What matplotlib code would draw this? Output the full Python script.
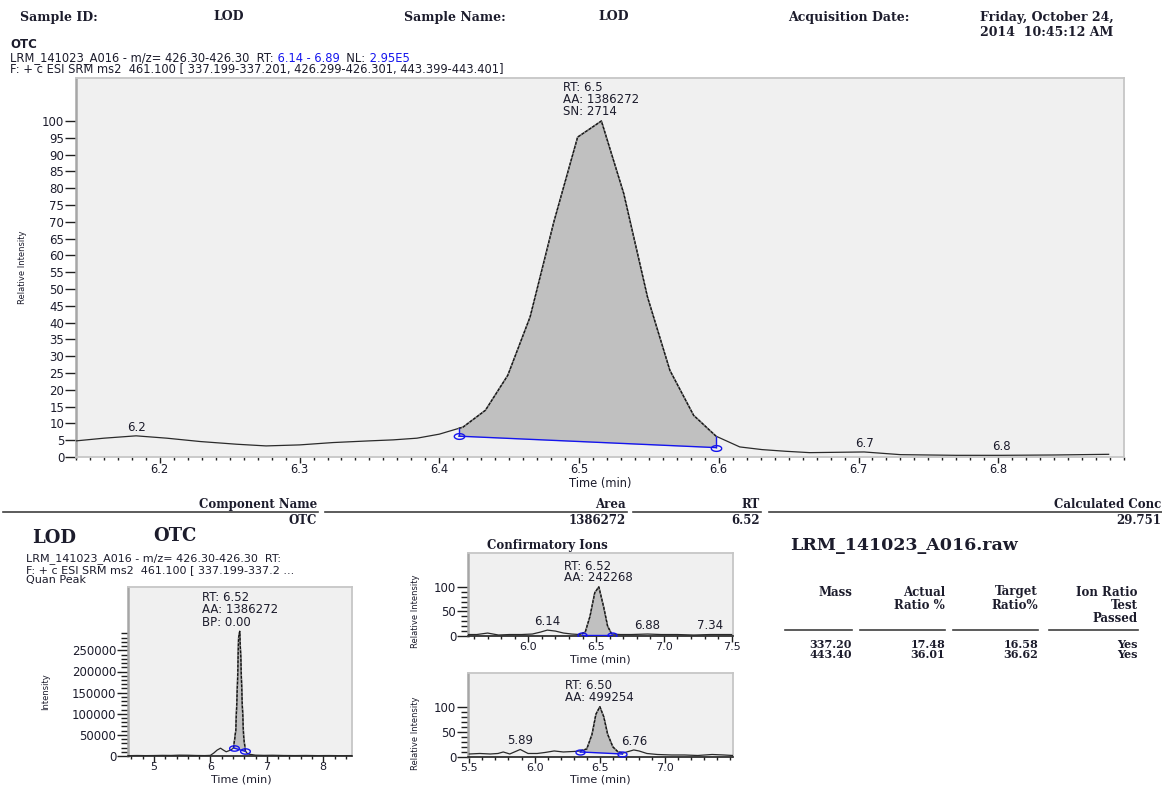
import numpy as np
import matplotlib
matplotlib.use("Agg")
import matplotlib.pyplot as plt
from matplotlib.ticker import FixedLocator, MultipleLocator, FormatStrFormatter
from matplotlib.path import Path

# ---------------- data ----------------
main_t = [6.140, 6.160, 6.183, 6.205, 6.229, 6.255, 6.276, 6.300, 6.324, 6.350, 6.367, 6.384,
          6.400, 6.417, 6.433, 6.449, 6.465, 6.482, 6.499, 6.516, 6.532, 6.549, 6.565, 6.582,
          6.598, 6.615, 6.631, 6.648, 6.665, 6.704, 6.730, 6.770, 6.802, 6.840, 6.879]
main_i = [4.8, 5.6, 6.3, 5.6, 4.6, 3.8, 3.3, 3.6, 4.3, 4.8, 5.1, 5.6,
          6.8, 8.9, 13.9, 24.3, 41.7, 70.0, 95.2, 100.0, 78.4, 47.6, 25.8, 12.4,
          6.2, 3.0, 2.2, 1.7, 1.3, 1.5, 0.7, 0.5, 0.5, 0.6, 0.8]
main_bl_t = [6.414, 6.598]
main_bl_i = [6.2, 2.8]
main_lbl_t = [6.183, 6.704, 6.802]
main_lbl = ["6.2", "6.7", "6.8"]
main_xticks = [6.2, 6.3, 6.4, 6.5, 6.6, 6.7, 6.8]
main_yticks = list(range(0, 101, 5))
main_apex = "RT: 6.5\nAA: 1386272\nSN: 2714"

quant_t = [4.55, 4.70, 4.85, 5.00, 5.15, 5.30, 5.45, 5.60, 5.75, 5.90, 6.00, 6.06, 6.12, 6.18,
           6.23, 6.28, 6.33, 6.37, 6.41, 6.45, 6.48, 6.50, 6.52, 6.54, 6.56, 6.59, 6.62, 6.66,
           6.70, 6.80, 6.95, 7.10, 7.30, 7.50, 7.70, 7.90, 8.10, 8.30, 8.50]
quant_i = [800, 1200, 900, 1100, 1500, 1300, 2000, 1800, 1200, 1000, 1500, 7000, 14000, 18500,
           14000, 10000, 12500, 15000, 19000, 60000, 170000, 280000, 295000, 230000, 140000, 45000, 12000, 5000,
           4000, 2000, 1500, 1800, 1200, 1000, 1300, 900, 1100, 800, 1000]
quant_bl_t = [6.41, 6.62]
quant_bl_i = [19000, 11000]
quant_xticks = [5, 6, 7, 8]
quant_yticks = [0, 50000, 100000, 150000, 200000, 250000]
quant_apex = "RT: 6.52\nAA: 1386272\nBP: 0.00"

ion1_t = [5.55, 5.62, 5.70, 5.78, 5.86, 5.95, 6.03, 6.09, 6.14, 6.20, 6.26, 6.32, 6.38, 6.42,
          6.455, 6.49, 6.52, 6.555, 6.585, 6.615, 6.68, 6.76, 6.88, 6.98, 7.10, 7.22, 7.34, 7.42, 7.50]
ion1_i = [3, 3, 6, 2, 3, 3, 4, 8, 12, 10, 6, 4, 3, 8,
          40, 88, 100, 60, 20, 4, 3, 3, 4, 3, 3, 2, 3, 3, 3]
ion1_bl_t = [6.394, 6.615]
ion1_bl_i = [1.5, 1.5]
ion1_lbl_t = [6.14, 6.88, 7.34]
ion1_lbl = ["6.14", "6.88", "7.34"]
ion1_xticks = [6.0, 6.5, 7.0, 7.5]
ion1_apex = "RT: 6.52\nAA: 242268"

ion2_t = [5.50, 5.58, 5.66, 5.72, 5.76, 5.81, 5.89, 5.95, 6.02, 6.08, 6.15, 6.22, 6.30, 6.35,
          6.40, 6.44, 6.47, 6.50, 6.53, 6.56, 6.60, 6.64, 6.68, 6.72, 6.76, 6.80, 6.86, 6.94,
          7.05, 7.15, 7.25, 7.36, 7.45, 7.52]
ion2_i = [6, 7, 6, 7, 10, 6, 15, 7, 7, 9, 12, 10, 11, 12,
          16, 45, 85, 100, 80, 45, 20, 10, 8, 11, 14, 12, 7, 5,
          4, 4, 3, 5, 4, 3]
ion2_bl_t = [6.35, 6.672]
ion2_bl_i = [10, 6]
ion2_lbl_t = [5.89, 6.76]
ion2_lbl = ["5.89", "6.76"]
ion2_xticks = [5.5, 6.0, 6.5, 7.0]
ion2_apex = "RT: 6.50\nAA: 499254"

ion_yticks = [0, 50, 100]

table_cols = ["Component Name", "Area", "RT", "Calculated Conc"]
table_vals = ["OTC", "1386272", "6.52", "29.751"]
ratio_cols = ["Mass", "Actual\nRatio %", "Target\nRatio%", "Ion Ratio\nTest\nPassed"]
ratio_rows = [["337.20", "17.48", "16.58", "Yes"],
              ["443.40", "36.01", "36.62", "Yes"]]

# ---------------- style ----------------
SANS = ["DejaVu Sans"]
SERIF = ["DejaVu Serif"]
plt.rcParams["font.family"] = SANS
TXT = "#1c1c2c"
BLUE = "#1414ee"
LINE = "#2a2a2a"
FILL = "#c0c0c0"
BG = "#f0f0f0"
FRAME = "#c6c6c6"

W, H = 1162, 786
fig = plt.figure(figsize=(W / 100, H / 100), dpi=100)
fig.patch.set_facecolor("white")
ov = fig.add_axes([0, 0, 1, 1])
ov.set_xlim(0, W)
ov.set_ylim(H, 0)
ov.axis("off")

th = np.linspace(0, 2 * np.pi, 41)
ELL = Path(np.c_[np.cos(th), 0.55 * np.sin(th)])


def axes_px(l, t, r, b):
    return fig.add_axes([l / W, 1 - b / H, (r - l) / W, (b - t) / H])


def txt(x, y, s, fs=8, fam=SANS, **kw):
    kw.setdefault("va", "center")
    kw.setdefault("color", TXT)
    return ov.text(x, y, s, fontsize=fs, family=fam, **kw)


def frame(ax, bottom_dark=False):
    ax.set_facecolor(BG)
    for s in ax.spines.values():
        s.set_color(FRAME)
        s.set_linewidth(1.3)
    ax.spines["left"].set_color("#a6a6a6")
    ax.spines["left"].set_linewidth(1.8)
    if bottom_dark:
        ax.spines["bottom"].set_color("#202020")
        ax.spines["bottom"].set_linewidth(1.2)
    ax.tick_params(which="both", direction="out", color="#202020", width=1,
                   labelcolor=TXT, top=False, right=False)


def trace(ax, t, y, bl_t, bl_y, lw=0.9, ms=7):
    t = np.asarray(t, float)
    y = np.asarray(y, float)
    ax.plot(t, y, color=LINE, lw=lw, zorder=3)
    t0, t1 = bl_t
    inner = (t > t0) & (t < t1)
    pt = np.r_[t0, t[inner], t1]
    py = np.interp(pt, t, y)
    pb = np.interp(pt, bl_t, bl_y)
    ax.fill_between(pt, pb, py, color=FILL, lw=0, zorder=2)
    ax.plot(pt, py, color="#8a8a8a", lw=lw + 0.2, zorder=4)
    ax.plot(pt, py, color="#111111", lw=lw, ls=(0, (2.2, 1.2)), zorder=5)
    ax.plot(bl_t, bl_y, color=BLUE, lw=1, zorder=6)
    ax.vlines(bl_t, bl_y, np.interp(bl_t, t, y), color=BLUE, lw=1, zorder=6)
    ax.plot(bl_t, bl_y, ls="none", marker=ELL, ms=ms, mfc="none", mec=BLUE, mew=1, zorder=7)


def peak_labels(ax, t, y, lt, labels, fs=8):
    for x, s in zip(lt, labels):
        ax.annotate(s, xy=(x, np.interp(x, t, y)), xytext=(0, 1.5), textcoords="offset points",
                    ha="center", va="bottom", fontsize=fs, color=TXT)


def apex(ax, t, y, s, fs=8, ls=1.0):
    k = int(np.argmax(y))
    ax.annotate(s, xy=(t[k], y[k]), xytext=(0, 2), textcoords="offset points", ha="center",
                va="bottom", multialignment="left", fontsize=fs, color=TXT, linespacing=ls)


def xlabel_at(ax, l, t, r, b, x, y, fs=8.5):
    ax.set_xlabel("Time (min)", fontsize=fs, color=TXT, va="center")
    ax.xaxis.set_label_coords((x - l) / (r - l), -(y - b) / (b - t))


# ---------------- header ----------------
hdr = [(20, "Sample ID:"), (213, "LOD"), (404, "Sample Name:"), (598, "LOD"),
       (788, "Acquisition Date:"), (980, "Friday, October 24,")]
for x, s in hdr:
    txt(x, 17, s, fs=9, fam=SERIF, ha="left", weight="bold")
txt(980, 33, "2014  10:45:12 AM", fs=9, fam=SERIF, ha="left", weight="bold")

txt(10, 45, "OTC", fs=8.5, ha="left", weight="bold")
a = txt(10, 58, "LRM_141023_A016 - m/z= 426.30-426.30  RT:", fs=8.3, ha="left")
b = ov.annotate(" 6.14 - 6.89", xy=(1, 0), xycoords=a, va="bottom", fontsize=8.3, color=BLUE)
c = ov.annotate("  NL:", xy=(1, 0), xycoords=b, va="bottom", fontsize=8.3, color=TXT)
ov.annotate(" 2.95E5", xy=(1, 0), xycoords=c, va="bottom", fontsize=8.3, color=BLUE)
txt(10, 69.5, "F: + c ESI SRM ms2  461.100 [ 337.199-337.201, 426.299-426.301, 443.399-443.401]",
    fs=8.3, ha="left")

# ---------------- main chromatogram ----------------
ML, MT, MR, MB = 76, 78, 1124, 457
ax = axes_px(ML, MT, MR, MB)
frame(ax)
trace(ax, main_t, main_i, main_bl_t, main_bl_i, lw=0.9, ms=7.5)
ax.set_xlim(6.14, 6.89)
ax.set_ylim(0, 112.8)
ax.xaxis.set_major_locator(FixedLocator(main_xticks))
ax.xaxis.set_minor_locator(MultipleLocator(0.01))
ax.xaxis.set_major_formatter(FormatStrFormatter("%.1f"))
ax.yaxis.set_major_locator(FixedLocator(main_yticks))
ax.tick_params(axis="y", which="major", length=8, pad=0.5, labelsize=8.5)
ax.tick_params(axis="x", which="major", length=4.5, pad=0, labelsize=8.3)
ax.tick_params(axis="x", which="minor", length=2)
peak_labels(ax, main_t, main_i, main_lbl_t, main_lbl, fs=8.5)
apex(ax, main_t, main_i, main_apex, fs=8.5, ls=0.9)
xlabel_at(ax, ML, MT, MR, MB, 600, 484, fs=8.3)
ax.set_ylabel("Relative Intensity", fontsize=6, color=TXT)
ax.yaxis.set_label_coords(-(ML - 27) / (MR - ML), 0.5)

# ---------------- result table ----------------
seg = [(3, 318), (325, 627), (633, 761), (769, 1162)]
for (x0, x1), col, val in zip(seg, table_cols, table_vals):
    ov.plot([x0, x1], [512, 512], color="#404040", lw=1.2)
    txt(x1 - 1, 504.5, col, fs=8.5, fam=SERIF, ha="right", weight="bold")
    txt(x1 - 1, 521, val, fs=8.5, fam=SERIF, ha="right", weight="bold")

# ---------------- quan peak ----------------
txt(32, 538, "LOD", fs=13, fam=SERIF, ha="left", weight="bold")
txt(153, 536, "OTC", fs=13, fam=SERIF, ha="left", weight="bold")
txt(26, 559, "LRM_141023_A016 - m/z= 426.30-426.30  RT:", fs=8, ha="left")
txt(26, 570, "F: + c ESI SRM ms2  461.100 [ 337.199-337.2 ...", fs=8, ha="left")
txt(26, 580.5, "Quan Peak", fs=8, ha="left")

QL, QT, QR, QB = 128, 587, 352, 756
qx = axes_px(QL, QT, QR, QB)
frame(qx, bottom_dark=True)
trace(qx, quant_t, quant_i, quant_bl_t, quant_bl_i, lw=0.9, ms=7)
qx.set_xlim(4.54, 8.51)
qx.set_ylim(0, 400000)
qx.xaxis.set_major_locator(FixedLocator(quant_xticks))
qx.xaxis.set_minor_locator(MultipleLocator(0.2))
qx.yaxis.set_major_locator(FixedLocator(quant_yticks))
qx.yaxis.set_minor_locator(FixedLocator(list(range(0, 300000, 10000))))
qx.yaxis.set_major_formatter(FormatStrFormatter("%d"))
qx.tick_params(axis="y", which="major", length=8, pad=0.5, labelsize=8.5)
qx.tick_params(axis="y", which="minor", length=5)
qx.tick_params(axis="x", which="major", length=4, pad=0, labelsize=8)
qx.tick_params(axis="x", which="minor", length=2.5)
apex(qx, quant_t, quant_i, quant_apex, fs=8.5, ls=0.95)
xlabel_at(qx, QL, QT, QR, QB, 241, 780, fs=8)
qx.set_ylabel("Intensity", fontsize=6, color=TXT)
qx.yaxis.set_label_coords(-(QL - 50) / (QR - QL), 0.38)

# ---------------- confirmatory ions ----------------
txt(487, 545, "Confirmatory Ions", fs=8.5, fam=SERIF, ha="left", weight="bold")


def ion_axes(rect, t, y, bl_t, bl_y, lt, labels, xticks, xlim, ylim, apx, xlab_y, ylab_y):
    ia = axes_px(*rect)
    frame(ia, bottom_dark=True)
    trace(ia, t, y, bl_t, bl_y, lw=0.9, ms=6.5)
    ia.set_xlim(*xlim)
    ia.set_ylim(*ylim)
    ia.xaxis.set_major_locator(FixedLocator(xticks))
    ia.xaxis.set_minor_locator(MultipleLocator(0.1))
    ia.xaxis.set_major_formatter(FormatStrFormatter("%.1f"))
    ia.yaxis.set_major_locator(FixedLocator(ion_yticks))
    ia.yaxis.set_minor_locator(FixedLocator(list(range(0, 101, 10))))
    ia.tick_params(axis="y", which="major", length=8, pad=0.5, labelsize=8.5)
    ia.tick_params(axis="y", which="minor", length=5)
    ia.tick_params(axis="x", which="major", length=4, pad=0, labelsize=8)
    ia.tick_params(axis="x", which="minor", length=2.5)
    peak_labels(ia, t, y, lt, labels, fs=8.5)
    apex(ia, t, y, apx, fs=8.5, ls=0.85)
    l, tp, r, b = rect
    xlabel_at(ia, l, tp, r, b, 600, xlab_y, fs=8)
    ia.set_ylabel("Relative Intensity", fontsize=6, color=TXT)
    ia.yaxis.set_label_coords(-(l - 420) / (r - l), 1 - (ylab_y - tp) / (b - tp))
    return ia


ion_axes((468, 553, 733, 636), ion1_t, ion1_i, ion1_bl_t, ion1_bl_i, ion1_lbl_t, ion1_lbl,
         ion1_xticks, (5.555, 7.51), (0, 169), ion1_apex, 660, 611)
ion_axes((468, 673, 733, 757), ion2_t, ion2_i, ion2_bl_t, ion2_bl_i, ion2_lbl_t, ion2_lbl,
         ion2_xticks, (5.49, 7.52), (0, 167), ion2_apex, 780, 733)

# ---------------- ion ratio table ----------------
txt(790, 546, "LRM_141023_A016.raw", fs=12.5, fam=SERIF, ha="left", weight="bold")
rseg = [(785, 852), (860, 945), (953, 1038), (1049, 1138)]
for (x0, x1), col in zip(rseg, ratio_cols):
    for k, line in enumerate(col.split("\n")):
        txt(x1, 592 + k * 13.3, line, fs=8.5, fam=SERIF, ha="right", weight="bold")
    ov.plot([x0, x1], [630, 630], color="#404040", lw=1.2)
for r, row in enumerate(ratio_rows):
    for (x0, x1), v in zip(rseg, row):
        txt(x1, 644 + r * 11, v, fs=8, fam=SERIF, ha="right", weight="bold")

fig.savefig("out.png", dpi=100, facecolor="white")
